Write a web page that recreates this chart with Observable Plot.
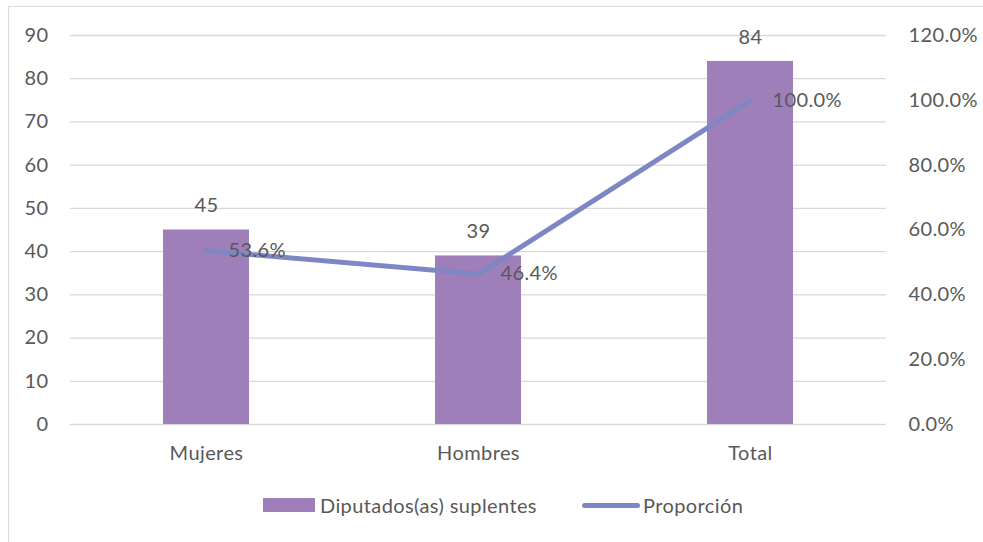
<!DOCTYPE html>
<html>
<head>
<meta charset="utf-8">
<script src="https://cdn.jsdelivr.net/npm/d3@7"></script>
<script src="https://cdn.jsdelivr.net/npm/@observablehq/plot@0.6"></script>
<style>
  html, body { margin: 0; padding: 0; background: #fff; }
  body { width: 983px; height: 542px; position: relative; overflow: hidden; font-family: Lato, "Open Sans", sans-serif; }
  #frame { position: absolute; left: 8px; top: 6px; width: 990px; height: 560px; border: 1px solid #d9d9d9; box-sizing: border-box; }
  #chart { position: absolute; left: 0; top: 0; }
  #chart svg text { letter-spacing: 0.4px; }
  #legend { position: absolute; left: 0; top: 493px; width: 983px; height: 24px; font-size: 20px; letter-spacing: 0.4px; color: #595959; }
  .item { position: absolute; top: 0; display: flex; align-items: center; height: 24px; }
  .sw-bar { width: 52px; height: 14px; background: #9e7fb9; margin-right: 5px; }
  .sw-line { width: 58px; height: 5px; background: #7f86c4; border-radius: 3px; margin-right: 3px; }
</style>
</head>
<body>
<div id="frame"></div>
<div id="chart"></div>
<div id="legend">
  <div class="item" style="left:263px"><div class="sw-bar"></div><span id="lg1"></span></div>
  <div class="item" style="left:582px"><div class="sw-line"></div><span id="lg2"></span></div>
</div>
<script>
const categories = ["Mujeres", "Hombres", "Total"];
const diputados = [45, 39, 84];
const proporcion = [0.536, 0.464, 1.0];
const leftTicks = [0, 10, 20, 30, 40, 50, 60, 70, 80, 90];
const rightTicks = [0, 0.2, 0.4, 0.6, 0.8, 1.0, 1.2];
const seriesNames = ["Diputados(as) suplentes", "Proporción"];

const leftMax = 90, rightMax = 1.2;
const toLeft = p => p * leftMax / rightMax;

const data = categories.map((c, i) => ({cat: c, n: diputados[i], p: proporcion[i]}));
const fmtPct = v => (v * 100).toFixed(1) + "%";
const textColor = "#595959";

const chart = Plot.plot({
  width: 983,
  height: 470,
  marginTop: 35,
  marginBottom: 46,
  marginLeft: 70,
  marginRight: 97,
  style: {fontFamily: "Lato, 'Open Sans', sans-serif", fontSize: "20px", color: textColor, background: "transparent"},
  x: {domain: categories, paddingInner: 0.684, paddingOuter: 0.342, label: null},
  y: {domain: [0, leftMax], label: null},
  marks: [
    Plot.ruleY(leftTicks, {stroke: "#d9d9d9", strokeWidth: 1.3}),
    Plot.axisY({ticks: leftTicks, tickSize: 0, tickPadding: 22, label: null, fill: textColor, fontSize: 20, tickFormat: d => d}),
    Plot.axisY({anchor: "right", ticks: rightTicks.map(toLeft), tickSize: 0, tickPadding: 22, label: null, fill: textColor, fontSize: 20,
      tickFormat: v => fmtPct(v * rightMax / leftMax), textAnchor: "start"}),
    Plot.axisX({tickSize: 0, tickPadding: 21, label: null, fill: textColor, fontSize: 20}),
    Plot.barY(data, {x: "cat", y: "n", fill: "#9e7fb9"}),
    Plot.text(data, {x: "cat", y: "n", text: d => String(d.n), dy: -24, fill: textColor, fontSize: 20}),
    Plot.line(data, {x: "cat", y: d => toLeft(d.p), stroke: "#7f86c4", strokeWidth: 5, strokeLinecap: "round", strokeLinejoin: "round"}),
    Plot.text(data, {x: "cat", y: d => toLeft(d.p), text: d => fmtPct(d.p), dx: 22, textAnchor: "start", fill: textColor, fontSize: 20})
  ]
});
document.getElementById("chart").appendChild(chart);
document.getElementById("lg1").textContent = seriesNames[0];
document.getElementById("lg2").textContent = seriesNames[1];
</script>
</body>
</html>
